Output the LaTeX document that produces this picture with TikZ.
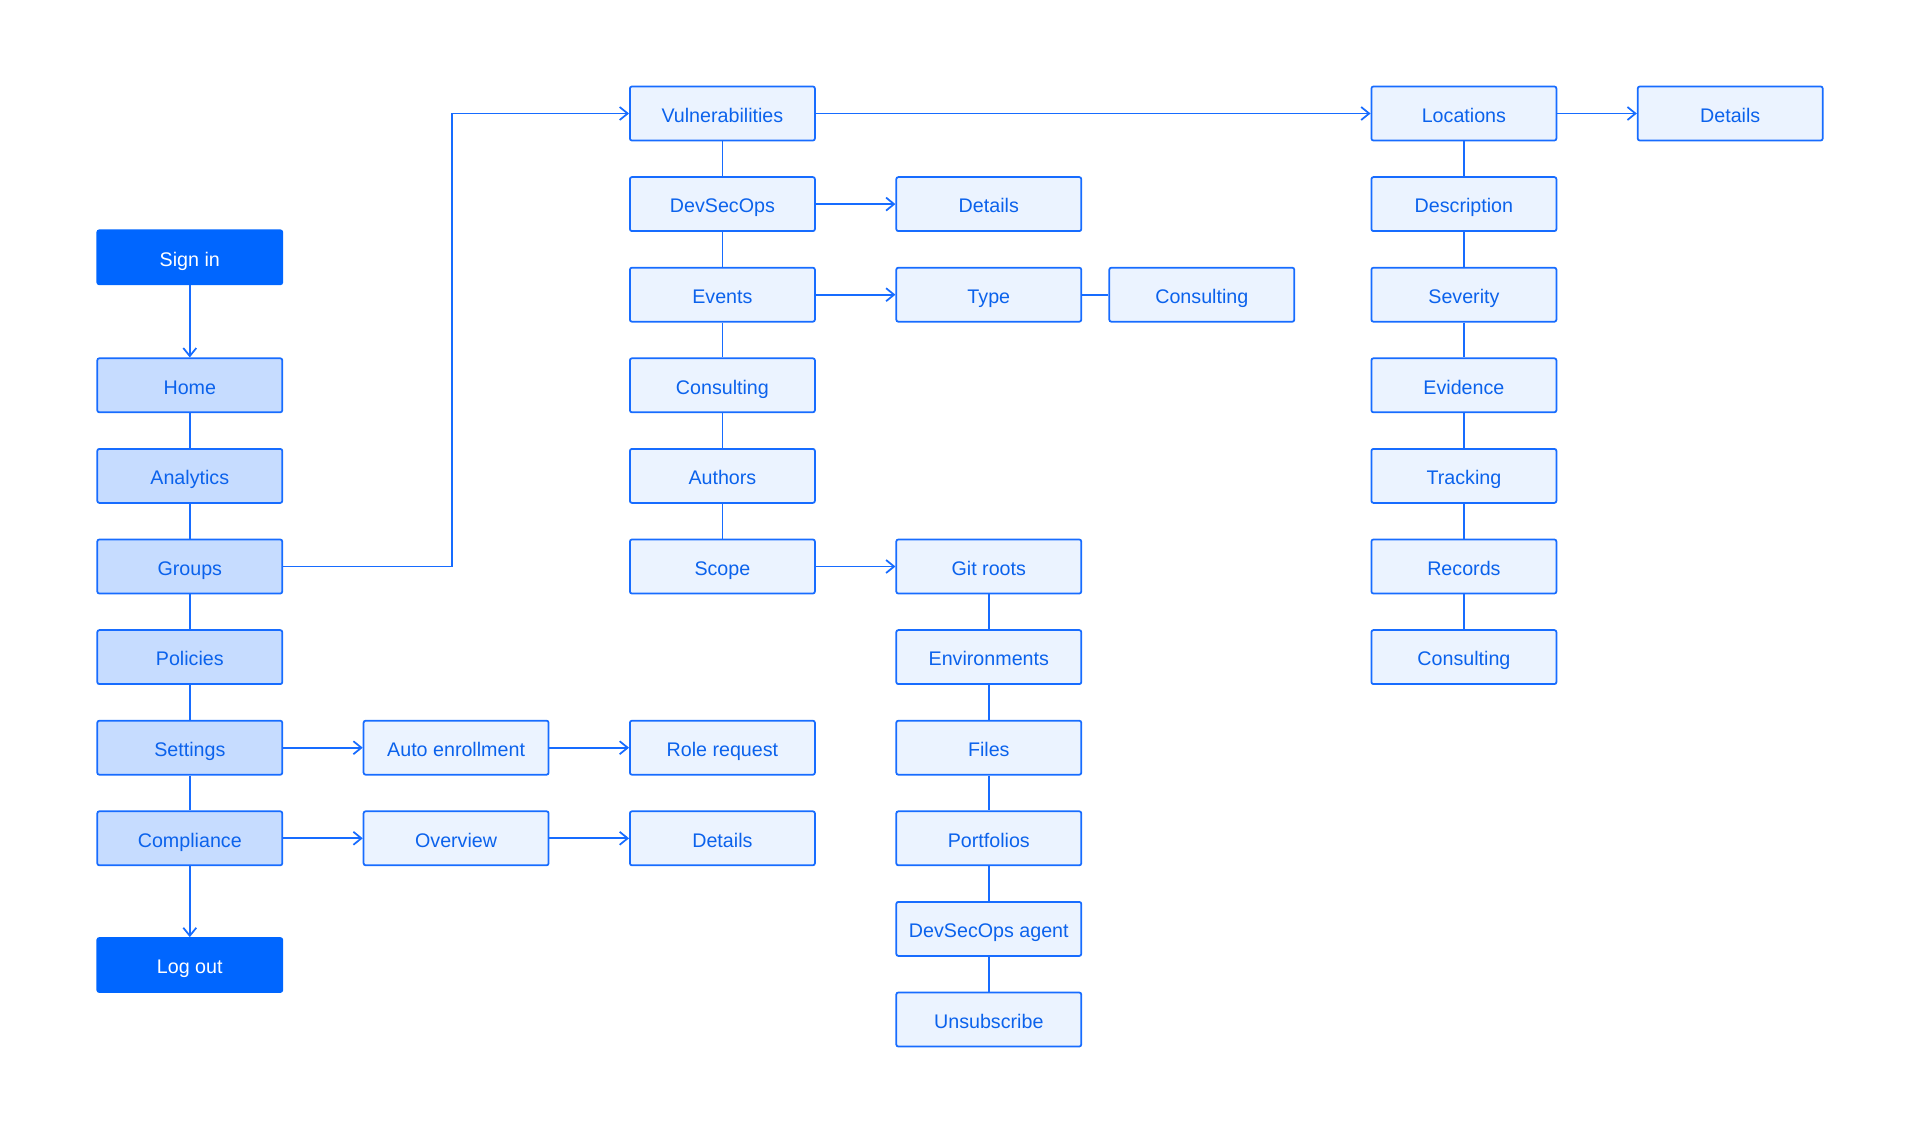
\documentclass[tikz,border=0pt]{standalone}
\usepackage{fontspec}
\setmainfont{Liberation Sans}
\usetikzlibrary{arrows.meta,positioning}
\definecolor{signblue}{HTML}{0066FF}
\definecolor{lineblue}{HTML}{176CFF}
\definecolor{txtblue}{HTML}{0B62EC}
\definecolor{midfill}{HTML}{C6DCFF}
\definecolor{paleblue}{HTML}{EBF3FF}

\begin{document}
\begin{tikzpicture}[x=0.02cm,y=-0.02cm,
  every node/.style={font=\fontsize{11.2}{13}\selectfont},
  page/.style={draw=lineblue,line width=0.035cm,rounded corners=0.04cm,fill=paleblue,
    text=txtblue,minimum width=3.7cm,minimum height=1.08cm,inner sep=0pt,
    text height=1.01em,text depth=0pt},
  mainpage/.style={page,fill=midfill},
  endpage/.style={page,fill=signblue,draw=signblue,text=white},
  link/.style={draw=lineblue,line width=0.035cm},
  go/.style={link,-{Straight Barb[length=1.6mm,width=2.6mm]}}]
\useasboundingbox (0,0) rectangle (1920,1132);
\node[endpage] (signin) at (189.8,257.3) {Sign in};
\node[mainpage] (home) at (189.8,385.3) {Home};
\node[mainpage] (analytics) at (189.8,475.9) {Analytics};
\node[mainpage] (groups) at (189.8,566.5) {Groups};
\node[mainpage] (policies) at (189.8,657.1) {Policies};
\node[mainpage] (settings) at (189.8,747.7) {Settings};
\node[mainpage] (compliance) at (189.8,838.3) {Compliance};
\node[endpage] (logout) at (189.8,965) {Log out};
\node[page] (autoenroll) at (456.1,747.7) {Auto enrollment};
\node[page] (overview) at (456.1,838.3) {Overview};
\node[page] (vulns) at (722.4,113.5) {Vulnerabilities};
\node[page] (devsecops) at (722.4,204.1) {DevSecOps};
\node[page] (events) at (722.4,294.7) {Events};
\node[page] (vconsult) at (722.4,385.3) {Consulting};
\node[page] (authors) at (722.4,475.9) {Authors};
\node[page] (scope) at (722.4,566.5) {Scope};
\node[page] (rolereq) at (722.4,747.7) {Role request};
\node[page] (cdetails) at (722.4,838.3) {Details};
\node[page] (ddetails) at (988.8,204.1) {Details};
\node[page] (type) at (988.8,294.7) {Type};
\node[page] (gitroots) at (988.8,566.5) {Git roots};
\node[page] (envs) at (988.8,657.1) {Environments};
\node[page] (files) at (988.8,747.7) {Files};
\node[page] (portfolios) at (988.8,838.3) {Portfolios};
\node[page] (agent) at (988.8,928.9) {DevSecOps agent};
\node[page] (unsub) at (988.8,1019.5) {Unsubscribe};
\node[page] (tconsult) at (1201.8,294.7) {Consulting};
\node[page] (locations) at (1463.9,113.5) {Locations};
\node[page] (descr) at (1463.9,204.1) {Description};
\node[page] (severity) at (1463.9,294.7) {Severity};
\node[page] (evidence) at (1463.9,385.3) {Evidence};
\node[page] (tracking) at (1463.9,475.9) {Tracking};
\node[page] (records) at (1463.9,566.5) {Records};
\node[page] (lconsult) at (1463.9,657.1) {Consulting};
\node[page] (ldetails) at (1730.2,113.5) {Details};
\coordinate (bend) at (451.8,113.5);
\draw[go] (signin) -- (home);
\draw[link] (home) -- (analytics) -- (groups) -- (policies) -- (settings) -- (compliance);
\draw[go] (compliance) -- (logout);
\draw[go] (settings) -- (autoenroll);
\draw[go] (autoenroll) -- (rolereq);
\draw[go] (compliance) -- (overview);
\draw[go] (overview) -- (cdetails);
\draw[go] (groups.east) -| (bend) -- (vulns.west);
\draw[link] (vulns) -- (devsecops) -- (events) -- (vconsult) -- (authors) -- (scope);
\draw[go] (devsecops) -- (ddetails);
\draw[go] (events) -- (type);
\draw[link] (type) -- (tconsult);
\draw[go] (scope) -- (gitroots);
\draw[link] (gitroots) -- (envs) -- (files) -- (portfolios) -- (agent) -- (unsub);
\draw[go] (vulns) -- (locations);
\draw[go] (locations) -- (ldetails);
\draw[link] (locations) -- (descr) -- (severity) -- (evidence) -- (tracking) -- (records) -- (lconsult);
\end{tikzpicture}
\end{document}
